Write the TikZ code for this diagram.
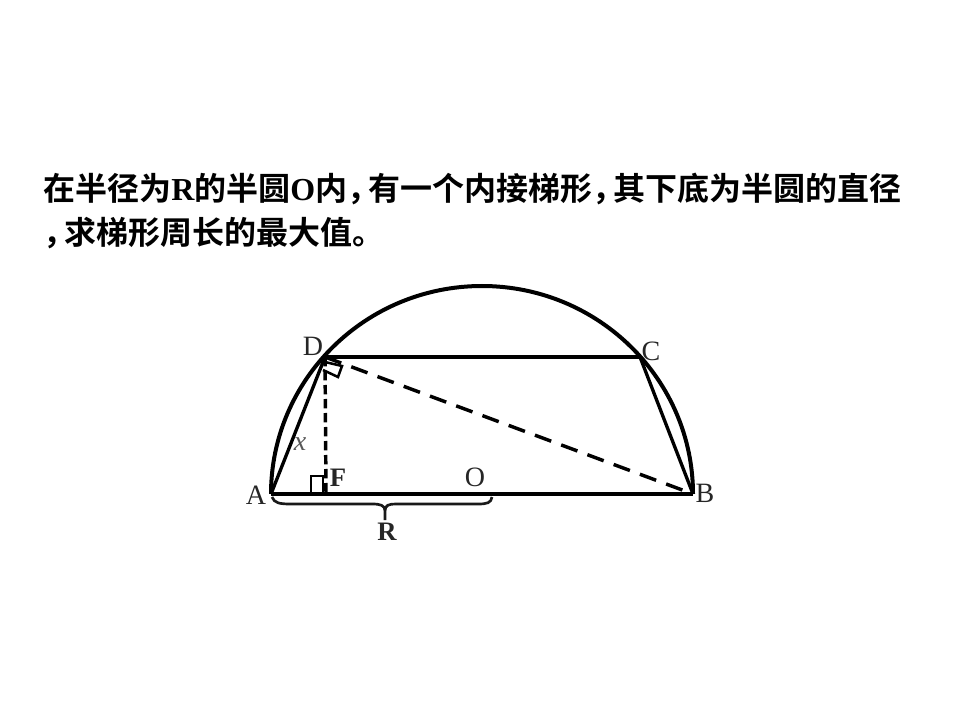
\documentclass[tikz,border=0pt]{standalone}
\usepackage{fontspec}
\setmainfont{Liberation Serif}
\newfontfamily\cjk{Noto Sans CJK SC}[BoldFont={Noto Sans CJK SC Bold}]
\newcommand{\zcomma}{，\kern-8.3pt\relax}
\begin{document}
\begin{tikzpicture}[x=0.75pt,y=-0.75pt,
  geo/.style={line width=3.2pt,black},
  thinner/.style={line width=2.5pt,black},
  dashslant/.style={line width=2.6pt,black,dash pattern=on 13pt off 8pt},
  dashvert/.style={line width=2.6pt,black,dash pattern=on 7pt off 3.5pt},
  box/.style={line width=1.9pt,black},
  lbl/.style={font=\fontsize{21}{21}\selectfont,text=black!85,inner sep=0pt},
  title/.style={font=\fontsize{24}{24}\selectfont\bfseries,inner sep=0pt,anchor=base west}]
\useasboundingbox (0,0) rectangle (960,720);
\coordinate (A) at (271,494);
\coordinate (B) at (693,494);
\coordinate (C) at (640,357);
\coordinate (D) at (325,357);
\coordinate (F) at (326,494);
\node[title] (t1) at (43,201) {\cjk 在半径为\rmfamily R\cjk 的半圆\rmfamily O\cjk 内\zcomma 有一个内接梯形\zcomma 其下底为半圆的直径};
\node[title] (t2) at (43,245) {\cjk \zcomma 求梯形周长的最大值。};
% arc
\draw[line width=3pt,black] (A) .. controls (271,380) and (365,286) .. (482,286) .. controls (599,286) and (693,380) .. (B);
% trapezoid
\draw[geo] (A) -- (B);
\draw[geo] (D) -- (C);
\draw[thinner] (A) -- (D);
\draw[thinner] (C) -- (B);
% dashed
\draw[dashslant] (D) -- (B);
\draw[dashvert] (D) -- (F);
% right angle marks
\coordinate (m1) at (311,494);
\coordinate (m2) at (311,476);
\coordinate (m3) at (323,476);
\coordinate (m4) at (323,494);
\draw[box] (m1) -- (m2) -- (m3) -- (m4);
\coordinate (d0) at (325,362);
\coordinate (d1) at (342,366);
\coordinate (d2) at (338,377);
\coordinate (d3) at (323,370);
\draw[box] (d0) -- (d1) -- (d2) -- (d3);
% brace
\coordinate (b1) at (272,497);
\coordinate (b2) at (492,497);
\draw[line width=2pt,black!90] (b1) .. controls (274,503) and (280,504) .. (290,504) -- (372,504) .. controls (380,504) and (385,505) .. (385,511) (385,520) -- (385,511) .. controls (385,505) and (389,504) .. (396,504) -- (478,504) .. controls (487,504) and (491,503) .. (b2);
% labels
\node[lbl] (la) at (256,495) {A};
\node[lbl] (lb) at (705,493) {B};
\node[lbl] (lc) at (651,351) {C};
\node[lbl] (ld) at (313,346) {D};
\node[lbl] (lo) at (475,477) {O};
\node[lbl,font=\fontsize{20}{20}\selectfont\bfseries] (lf) at (338,478) {F};
\node[lbl,font=\fontsize{20}{20}\selectfont\bfseries] (lr) at (387,532) {R};
\node[lbl,font=\fontsize{21}{21}\selectfont\itshape,text=black!65] (lx) at (300,444) {x};
\end{tikzpicture}
\end{document}
